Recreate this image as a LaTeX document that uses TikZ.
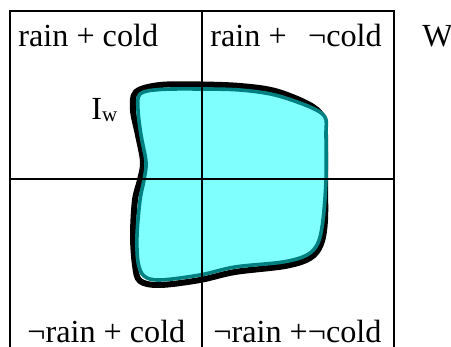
\documentclass[tikz,border=0pt]{standalone}
\usepackage{fontspec}
\setmainfont{Liberation Serif}
\usepackage{xcolor}
\definecolor{blobfill}{HTML}{80FFFF}
\definecolor{blobedge}{HTML}{008080}
\usetikzlibrary{positioning}

\begin{document}
\begin{tikzpicture}[
    x=0.5pt, y=-0.5pt,
    frame/.style={draw=black, line width=0.65pt},
    outline/.style={draw=black, line width=3pt, line join=round},
    region/.style={fill=blobfill, draw=blobedge, line width=1.8pt, line join=round},
    lbl/.style={anchor=base west, inner sep=0pt, font=\fontsize{16.1}{18}\selectfont}
]
\useasboundingbox (0,0) rectangle (451,347);

% interpretation I_w (black outline, then the cyan region)
\draw[outline] plot[smooth cycle, tension=0.55] coordinates {
    (136,92) (160,85) (200,84.5) (240,86) (275,91) (308,104) (322,116)
    (325,135) (325,180) (325,220) (321,244) (310,258) (285,266) (235,272)
    (200,280) (160,285) (140,281) (135,265) (133,235) (135,200) (140,180)
    (143,162) (138,135) (133,110)};
\filldraw[region] plot[smooth cycle, tension=0.55] coordinates {
    (140,94) (160,89.5) (200,89) (240,90) (275,95) (310,107) (325,117)
    (326,135) (326,180) (323,220) (318,243) (307,255) (283,262) (235,267)
    (200,275) (160,280) (144,276) (138,262) (137,235) (140,200) (144,180)
    (146,162) (141,135) (138,110)};

% the world W split into four parts
\coordinate (tl) at (10,11);
\coordinate (tr) at (394,11);
\coordinate (tm) at (202,11);
\draw[frame] (10,347) -- (tl) -- (tr) -- (394,347);
\draw[frame] (tm) -- (202,347);
\draw[frame] (10,179) -- (394,179);

% Labels
\node[lbl] (rc) at (18,47) {rain + cold};
\node[lbl] (rnc) at (210,47) {rain +\ \ \,¬cold};
\node[lbl] (w) at (422,47) {W};
\node[lbl] (iw) at (91,120) {I\raisebox{-1pt}{\fontsize{10.5}{11}\selectfont w}};
\node[lbl] (nrc) at (27,343) {¬rain + cold};
\node[lbl] (nrnc) at (213,343) {¬rain +¬cold};
\end{tikzpicture}
\end{document}
